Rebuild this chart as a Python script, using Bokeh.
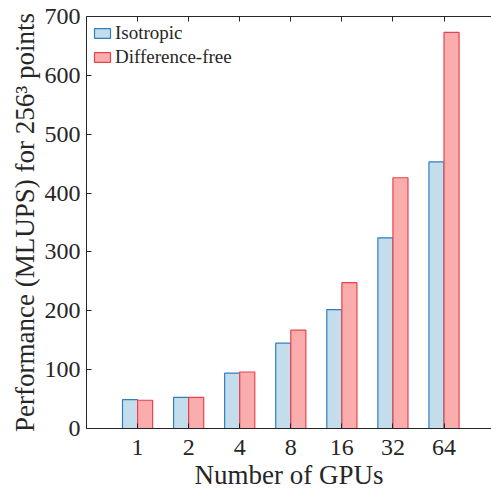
import numpy as np
from bokeh.plotting import figure
from bokeh.models import ColumnDataSource, FixedTicker, Range1d, LinearAxis, Legend, LegendItem
from bokeh.embed import file_html
from bokeh.resources import INLINE

gpus = ["1", "2", "4", "8", "16", "32", "64"]
isotropic = [49, 53, 94, 145, 202, 324, 453]
diff_free = [48, 53, 96, 167, 248, 426, 673]
yticks = [0, 100, 200, 300, 400, 500, 600, 700]

FONT = "'Liberation Serif', 'DejaVu Serif', serif"
pos = np.arange(1, len(gpus) + 1)
w = 0.295
src = ColumnDataSource(dict(xl=pos - w / 2, xr=pos + w / 2, iso=isotropic, dif=diff_free))

p = figure(width=491, height=493, output_backend="svg", toolbar_location=None,
           x_range=Range1d(0, 7.93), y_range=Range1d(0, 700),
           min_border_left=86, min_border_right=0, min_border_top=16, min_border_bottom=65)
p.outline_line_color = None
p.grid.grid_line_color = None
p.background_fill_color = "white"

r1 = p.vbar(x="xl", top="iso", width=w, source=src, fill_color="#c3dded",
            line_color="#2f7fc0", line_width=1.2)
r2 = p.vbar(x="xr", top="dif", width=w, source=src, fill_color="#fbacac",
            line_color="#e8434b", line_width=1.2)

xa = p.xaxis[0]
xa.ticker = FixedTicker(ticks=list(pos))
xa.major_label_overrides = {int(k): v for k, v in zip(pos, gpus)}
xa.axis_label = "Number of GPUs"
ya = p.yaxis[0]
ya.ticker = FixedTicker(ticks=yticks)
ya.axis_label = "Performance (MLUPS) for 256\u00b3 points"

for ax in (xa, ya):
    ax.major_tick_in = 5
    ax.major_tick_out = 0
    ax.minor_tick_line_color = None
    ax.axis_line_color = "#262626"
    ax.major_tick_line_color = "#262626"
    ax.major_label_text_font = FONT
    ax.major_label_text_font_size = "24px"
    ax.major_label_text_color = "#262626"
    ax.axis_label_text_font = FONT
    ax.axis_label_text_font_size = "27px"
    ax.axis_label_text_font_style = "normal"
    ax.axis_label_text_color = "#262626"
xa.major_label_standoff = 11
xa.axis_label_standoff = 2
ya.major_label_standoff = 6
ya.axis_label_standoff = 2

top = LinearAxis(ticker=FixedTicker(ticks=list(pos)), major_label_text_font_size="0px",
                 major_tick_in=5, major_tick_out=0, minor_tick_line_color=None,
                 axis_line_color="#262626", major_tick_line_color="#262626")
top.major_label_text_color = None
p.add_layout(top, "above")

legend = Legend(items=[LegendItem(label="Isotropic", renderers=[r1]),
                       LegendItem(label="Difference-free", renderers=[r2])],
                location="top_left")
legend.label_text_font = FONT
legend.label_text_font_size = "19px"
legend.label_text_color = "#262626"
legend.border_line_color = None
legend.background_fill_alpha = 0
legend.glyph_width = 20
legend.glyph_height = 12
legend.label_standoff = 3
legend.spacing = 2
legend.padding = 4
legend.margin = 6
legend.label_height = 19
p.add_layout(legend)

open("out.html", "w").write(file_html(p, INLINE))
